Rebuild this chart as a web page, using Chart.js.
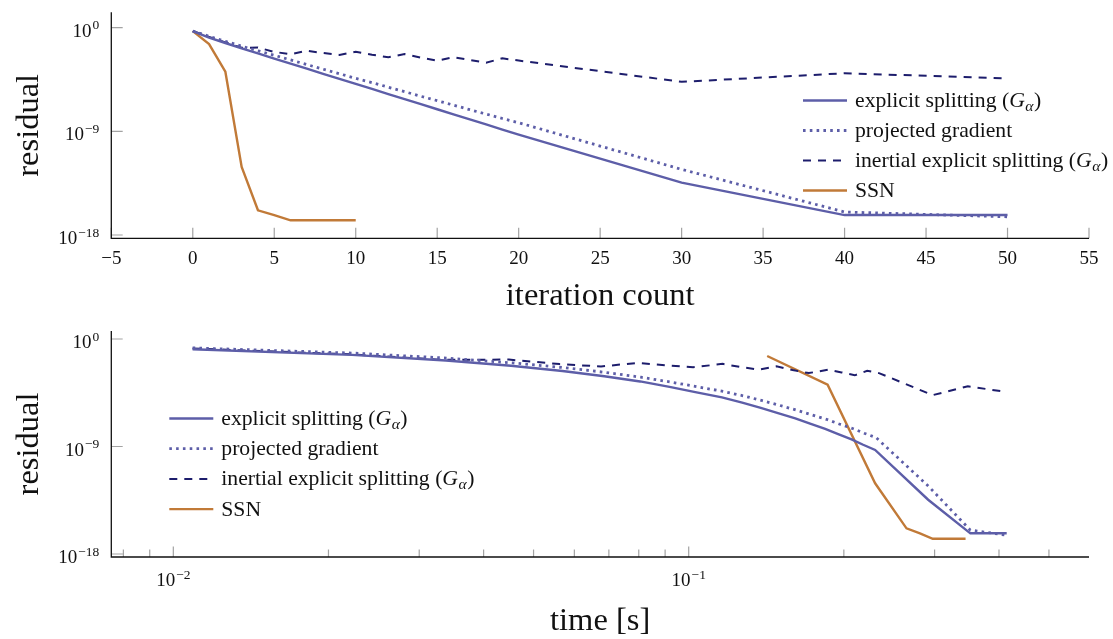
<!DOCTYPE html>
<html>
<head>
<meta charset="utf-8">
<script src="https://cdn.jsdelivr.net/npm/chart.js@4.4.1/dist/chart.umd.min.js"></script>
<style>
  html, body { margin: 0; padding: 0; background: #ffffff; }
  #wrap { position: relative; width: 1113px; height: 639px; }
  canvas { position: absolute; left: 0; }
  #iterChart { top: 0; }
  #timeChart { top: 320px; }
</style>
</head>
<body>
<div id="wrap">
  <canvas id="iterChart" width="1113" height="320"></canvas>
  <canvas id="timeChart" width="1113" height="319"></canvas>
</div>
<script>
// ---- recorded data -------------------------------------------------------
// iterations at which the first-order methods were logged
const iterations = [0, 1, 2, 3, 4, 5, 6, 7, 8, 9, 10, 11, 12, 13, 14, 15, 16, 17, 18, 19, 20, 30, 40, 50];

// residuals per method (same order as `iterations`)
const resExplicit = [5.1e-1, 1.4e-1, 4.7e-2, 1.6e-2, 5.8e-3, 2.1e-3, 7.6e-4, 2.8e-4, 9.9e-5, 3.6e-5, 1.3e-5,
  4.8e-6, 1.7e-6, 6.3e-7, 2.3e-7, 8.3e-8, 3.0e-8, 1.1e-8, 4.0e-9, 1.4e-9, 5.2e-10, 3.5e-14, 5.4e-17, 5.4e-17];
const resProjected = [5.1e-1, 1.8e-1, 6.6e-2, 2.5e-2, 1.0e-2, 4.0e-3, 1.6e-3, 6.3e-4, 2.5e-4, 1.0e-4, 4.0e-5,
  1.7e-5, 6.8e-6, 2.8e-6, 1.1e-6, 4.6e-7, 1.9e-7, 7.6e-8, 3.2e-8, 1.3e-8, 5.6e-9, 5.0e-13, 1.0e-16, 3.8e-17];
const resInertial = [5.1e-1, 1.6e-1, 5.2e-2, 1.8e-2, 1.9e-2, 7.9e-3, 5.0e-3, 1.0e-2, 6.3e-3, 4.3e-3, 8.3e-3,
  4.5e-3, 2.7e-3, 5.2e-3, 2.5e-3, 1.4e-3, 2.7e-3, 1.6e-3, 9.1e-4, 2.2e-3, 1.4e-3, 2.0e-5, 1.1e-4, 4.0e-5];

// semismooth Newton
const ssnIterations = [0, 1, 2, 3, 4, 5, 6, 7, 8, 9, 10];
const resSSN = [5.1e-1, 3.8e-2, 1.5e-4, 8.3e-13, 1.4e-16, 5.4e-17, 1.9e-17, 1.9e-17, 1.9e-17, 1.9e-17, 1.9e-17];

// wall-clock time [s] from iteration 1 onwards (iteration 0 sits at t = 0)
const timeExplicit = [0.0109, 0.0222, 0.0338, 0.0452, 0.0569, 0.0686, 0.0805, 0.0918, 0.103, 0.116, 0.127,
  0.138, 0.149, 0.161, 0.172, 0.184, 0.195, 0.207, 0.218, 0.230, 0.2915, 0.352, 0.414];
const timeProjected = [0.0109, 0.0223, 0.0340, 0.0455, 0.0572, 0.0690, 0.0808, 0.0922, 0.104, 0.117, 0.128,
  0.139, 0.150, 0.162, 0.173, 0.185, 0.196, 0.208, 0.219, 0.231, 0.2915, 0.352, 0.4136];
const timeInertial = [0.0109, 0.0221, 0.0334, 0.0448, 0.0562, 0.0676, 0.0795, 0.0906, 0.102, 0.1164, 0.126,
  0.137, 0.148, 0.159, 0.171, 0.1866, 0.198, 0.210, 0.222, 0.234, 0.2975, 0.348, 0.408];
const timeSSN = [0.142, 0.186, 0.230, 0.2646, 0.281, 0.2975, 0.309, 0.320, 0.332, 0.3445];

// legend entries
const seriesLabels = ['explicit splitting (Gα)', 'projected gradient', 'inertial explicit splitting (Gα)', 'SSN'];

// ticks
const iterTicks = [-5, 0, 5, 10, 15, 20, 25, 30, 35, 40, 45, 50, 55];
const iterTickLabels = ['−5', '0', '5', '10', '15', '20', '25', '30', '35', '40', '45', '50', '55'];
const residualTicks = [1, 1e-9, 1e-18];
const residualTickExps = ['0', '−9', '−18'];
const timeTicks = [0.01, 0.1];
const timeTickExps = ['−2', '−1'];
const timeMinorTicks = [0.008, 0.009, 0.02, 0.03, 0.04, 0.05, 0.06, 0.07, 0.08, 0.09, 0.2, 0.3, 0.4, 0.5];

// ---- styling ---------------------------------------------------------------
const SERIF = '"Liberation Serif", "Times New Roman", serif';
const COL_SPLIT = '#5d5ea8';
const COL_INERT = '#1d1d6c';
const COL_SSN = '#c17a38';
const TICK_FONT = 19;
const SUP_FONT = 13.5;
const LEGEND_FONT = 21.7;

const lineStyles = [
  { borderColor: COL_SPLIT, borderWidth: 2.4, borderDash: [] },
  { borderColor: COL_SPLIT, borderWidth: 2.8, borderDash: [2.6, 4.2] },
  { borderColor: COL_INERT, borderWidth: 2.0, borderDash: [8, 7] },
  { borderColor: COL_SSN, borderWidth: 2.4, borderDash: [] }
];

function pts(xs, ys) { return xs.map((x, i) => ({ x: x, y: ys[i] })); }

function makeDatasets(seriesPoints) {
  return seriesPoints.map((data, i) => Object.assign({
    label: seriesLabels[i], data: data, fill: false, pointRadius: 0, tension: 0,
    borderCapStyle: 'butt', borderJoinStyle: 'miter'
  }, lineStyles[i]));
}

// "10" with a raised exponent
function drawPower(ctx, exp, x, y, align) {
  ctx.textAlign = 'left';
  ctx.textBaseline = 'alphabetic';
  ctx.font = TICK_FONT + 'px ' + SERIF;
  const wb = ctx.measureText('10').width;
  ctx.font = SUP_FONT + 'px ' + SERIF;
  const we = ctx.measureText(exp).width;
  const w = wb + 1 + we;
  const x0 = align === 'right' ? x - w : x - w / 2;
  ctx.font = TICK_FONT + 'px ' + SERIF;
  ctx.fillText('10', x0, y);
  ctx.font = SUP_FONT + 'px ' + SERIF;
  ctx.fillText(exp, x0 + wb + 1, y - 7.5);
}

// legend text, with the operator symbol set as italic G and subscript alpha
function drawLegendText(ctx, text, x, y) {
  ctx.textAlign = 'left';
  ctx.textBaseline = 'alphabetic';
  const m = text.match(/^(.*\()Gα(\).*)$/);
  const f = LEGEND_FONT + 'px ' + SERIF;
  ctx.font = f;
  if (!m) { ctx.fillText(text, x, y); return; }
  ctx.fillText(m[1], x, y);
  x += ctx.measureText(m[1]).width;
  ctx.font = 'italic ' + f;
  ctx.fillText('G', x, y);
  x += ctx.measureText('G').width + 0.5;
  ctx.font = 'italic ' + (LEGEND_FONT * 0.72) + 'px ' + SERIF;
  ctx.fillText('α', x, y + 4);
  x += ctx.measureText('α').width + 0.5;
  ctx.font = f;
  ctx.fillText(m[2], x, y);
}

const decorPlugin = {
  id: 'decor',
  beforeDatasetsDraw(chart, args, o) {
    const ctx = chart.ctx;
    const a = chart.chartArea;
    const xs = chart.scales.x, ys = chart.scales.y;
    ctx.save();
    ctx.strokeStyle = '#a3a3a3';
    ctx.lineWidth = 1.2;
    ctx.beginPath();
    o.xTicks.forEach(v => {
      const px = xs.getPixelForValue(v);
      ctx.moveTo(px, a.bottom); ctx.lineTo(px, a.bottom - 10.5);
    });
    (o.xMinor || []).forEach(v => {
      const px = xs.getPixelForValue(v);
      ctx.moveTo(px, a.bottom); ctx.lineTo(px, a.bottom - 7.5);
    });
    o.yTicks.forEach(v => {
      const py = ys.getPixelForValue(v);
      ctx.moveTo(a.left, py); ctx.lineTo(a.left + 11.4, py);
    });
    ctx.stroke();
    // axis lines
    ctx.strokeStyle = '#111111';
    ctx.lineWidth = 1.3;
    ctx.beginPath();
    ctx.moveTo(a.left, a.top); ctx.lineTo(a.left, a.bottom);
    ctx.lineTo(a.right, a.bottom);
    ctx.stroke();
    ctx.restore();
  },
  afterDraw(chart, args, o) {
    const ctx = chart.ctx;
    const a = chart.chartArea;
    const xs = chart.scales.x, ys = chart.scales.y;
    ctx.save();
    ctx.fillStyle = '#111111';
    // x tick labels
    o.xTicks.forEach((v, i) => {
      const px = xs.getPixelForValue(v);
      if (o.xLabels) {
        ctx.font = TICK_FONT + 'px ' + SERIF;
        ctx.textAlign = 'center';
        ctx.textBaseline = 'alphabetic';
        ctx.fillText(o.xLabels[i], px, a.bottom + o.xLabelOffset);
      } else {
        drawPower(ctx, o.xExps[i], px, a.bottom + o.xLabelOffset, 'center');
      }
    });
    // y tick labels
    o.yTicks.forEach((v, i) => {
      const py = ys.getPixelForValue(v);
      drawPower(ctx, o.yExps[i], a.left - 12, py + 9, 'right');
    });
    // axis titles
    ctx.font = '32.5px ' + SERIF;
    ctx.textAlign = 'center';
    ctx.textBaseline = 'alphabetic';
    ctx.fillText(o.xTitle, (a.left + a.right) / 2, o.xTitleBaseline);
    ctx.save();
    ctx.translate(38, (a.top + a.bottom) / 2);
    ctx.rotate(-Math.PI / 2);
    ctx.fillText(o.yTitle, 0, 0);
    ctx.restore();
    // legend
    const L = o.legend;
    chart.data.datasets.forEach((ds, i) => {
      const y = L.y + i * L.row;
      ctx.save();
      ctx.strokeStyle = ds.borderColor;
      ctx.lineWidth = ds.borderWidth;
      ctx.setLineDash(ds.borderDash || []);
      ctx.lineCap = 'butt';
      ctx.beginPath();
      ctx.moveTo(L.x, y); ctx.lineTo(L.x + 44, y);
      ctx.stroke();
      ctx.restore();
      ctx.fillStyle = '#111111';
      drawLegendText(ctx, ds.label, L.x + 52, y + 6.5);
    });
    ctx.restore();
  }
};

function baseOptions(xScale, yScale, decor) {
  return {
    responsive: false,
    animation: false,
    devicePixelRatio: 1,
    layout: { padding: { left: 111.3, right: 24, top: decor.padTop, bottom: decor.padBottom } },
    plugins: { legend: { display: false }, tooltip: { enabled: false }, decor: decor },
    scales: { x: Object.assign({ display: false }, xScale), y: Object.assign({ display: false }, yScale) },
    events: []
  };
}

// residual vs. iteration count
new Chart(document.getElementById('iterChart'), {
  type: 'line',
  data: {
    datasets: makeDatasets([
      pts(iterations, resExplicit),
      pts(iterations, resProjected),
      pts(iterations, resInertial),
      pts(ssnIterations, resSSN)
    ])
  },
  options: baseOptions(
    { type: 'linear', min: -5, max: 55 },
    { type: 'logarithmic', min: Math.pow(10, -18.286), max: Math.pow(10, 1.337) },
    {
      padTop: 12.3, padBottom: 81.7,
      xTicks: iterTicks, xLabels: iterTickLabels, xLabelOffset: 25.2,
      yTicks: residualTicks, yExps: residualTickExps,
      xTitle: 'iteration count', yTitle: 'residual', xTitleBaseline: 305,
      legend: { x: 803, y: 100.5, row: 30 }
    }
  ),
  plugins: [decorPlugin]
});

// residual vs. wall-clock time
new Chart(document.getElementById('timeChart'), {
  type: 'line',
  data: {
    datasets: makeDatasets([
      pts(timeExplicit, resExplicit.slice(1)),
      pts(timeProjected, resProjected.slice(1)),
      pts(timeInertial, resInertial.slice(1)),
      pts(timeSSN, resSSN.slice(1))
    ])
  },
  options: baseOptions(
    { type: 'logarithmic', min: 0.00758, max: 0.598 },
    { type: 'logarithmic', min: Math.pow(10, -18.25), max: Math.pow(10, 0.67) },
    {
      padTop: 11, padBottom: 82,
      xTicks: timeTicks, xExps: timeTickExps, xMinor: timeMinorTicks, xLabelOffset: 29,
      yTicks: residualTicks, yExps: residualTickExps,
      xTitle: 'time [s]', yTitle: 'residual', xTitleBaseline: 310,
      legend: { x: 169.3, y: 98.5, row: 30.2 }
    }
  ),
  plugins: [decorPlugin]
});
</script>
</body>
</html>
